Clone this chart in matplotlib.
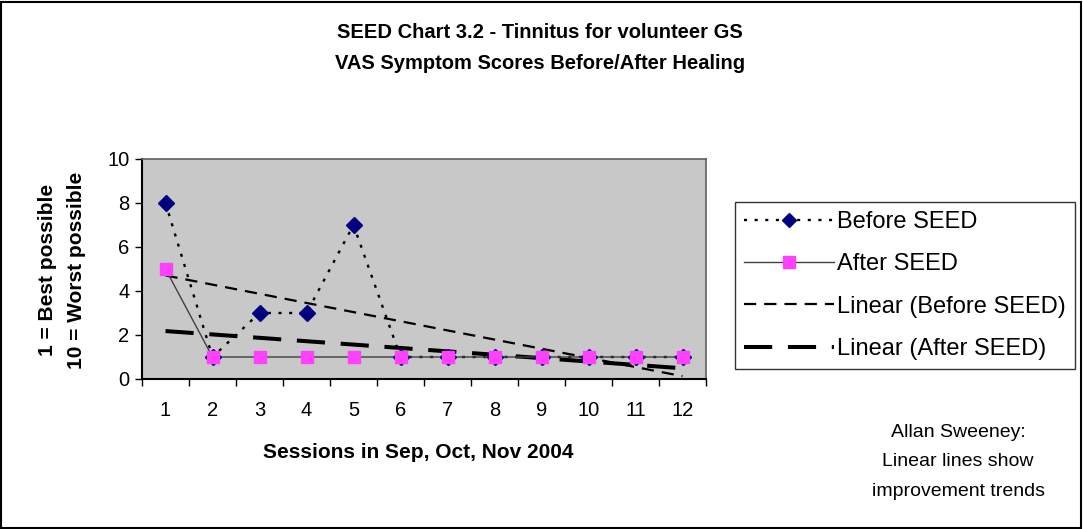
import numpy as np
import matplotlib
matplotlib.use("Agg")
import matplotlib.pyplot as plt
from matplotlib.lines import Line2D
from matplotlib.patches import Rectangle

sessions = [1, 2, 3, 4, 5, 6, 7, 8, 9, 10, 11, 12]
before_seed = [8, 1, 3, 3, 7, 1, 1, 1, 1, 1, 1, 1]
after_seed = [5, 1, 1, 1, 1, 1, 1, 1, 1, 1, 1, 1]
yticks = [0, 2, 4, 6, 8, 10]

title = "SEED Chart 3.2 - Tinnitus for volunteer GS\nVAS Symptom Scores Before/After Healing"
xlabel = "Sessions in Sep, Oct, Nov 2004"
ylabel = "1 = Best possible\n10 = Worst possible"
note = "Allan Sweeney:\nLinear lines show\nimprovement trends"

plt.rcParams['font.family'] = ['Liberation Sans', 'DejaVu Sans']

fig = plt.figure(figsize=(10.83, 5.29), dpi=100)
fig.patches.append(Rectangle((0.001, 0.002), 0.997, 0.995, transform=fig.transFigure,
                             fill=False, edgecolor='black', linewidth=1.5))

ax = fig.add_axes([142 / 1083, 1 - 379 / 529, (706 - 142) / 1083, (379 - 159) / 529])
ax.set_facecolor('#C8C8C8')

DOT = (0, (1.3, 3.2))
DASH_B = (0, (5.5, 3.6))
DASH_A = (0, (7.0, 3.9))

x = np.array(sessions, float)
ax.plot(x, before_seed, color='black', linestyle=DOT, linewidth=1.7, zorder=3)
ax.plot(x, before_seed, linestyle='none', marker='D', markersize=8.5,
        markerfacecolor='#000080', markeredgecolor='#000080', zorder=4)

ax.plot(x, after_seed, color='#404040', linewidth=1.0, zorder=3)
ax.plot(x, after_seed, linestyle='none', marker='s', markersize=8.6,
        markerfacecolor='#FF40FF', markeredgecolor='#FF40FF', zorder=5)

kb = np.polyfit(x, before_seed, 1)
ka = np.polyfit(x, after_seed, 1)
ax.plot(x, np.polyval(kb, x), color='black', linestyle=DASH_B, linewidth=1.6, zorder=2)
ax.plot(x, np.polyval(ka, x), color='black', linestyle=DASH_A, linewidth=2.9, zorder=2)

ax.set_xlim(0.5, 12.5)
ax.set_ylim(0, 10)
ax.set_yticks(yticks)
ax.set_xticks(x)
ax.set_xticks(np.arange(0.5, 13, 1), minor=True)
ax.tick_params(axis='x', which='major', length=0, labelsize=14.5, pad=16)
ax.tick_params(axis='x', which='minor', length=5, width=1, direction='out')
ax.tick_params(axis='y', length=5, width=1, direction='out', labelsize=14.5, pad=4)
for side in ['left', 'bottom']:
    ax.spines[side].set_color('black'); ax.spines[side].set_linewidth(1.5)
for side in ['top', 'right']:
    ax.spines[side].set_color('#606060'); ax.spines[side].set_linewidth(1.2)

fig.text(540 / 1083, 1 - 48 / 529, title, ha='center', va='center', fontsize=14.5,
         fontweight='bold', linespacing=1.8)
fig.text(418 / 1083, 1 - 452 / 529, xlabel, ha='center', va='center', fontsize=15,
         fontweight='bold')
fig.text(62 / 1083, 1 - 270 / 529, ylabel, ha='center', va='center', fontsize=15,
         fontweight='bold', rotation=90, linespacing=1.6, multialignment='center')
fig.text(958 / 1083, 1 - 462 / 529, note, ha='center', va='center', fontsize=14,
         linespacing=1.95)

handles = [
    Line2D([], [], color='black', linestyle=DOT, linewidth=1.7, marker='D',
           markersize=7, markerfacecolor='#000080', markeredgecolor='#000080'),
    Line2D([], [], color='#404040', linewidth=1.0, marker='s', markersize=8,
           markerfacecolor='#FF40FF', markeredgecolor='#FF40FF'),
    Line2D([], [], color='black', linestyle=DASH_B, linewidth=1.6),
    Line2D([], [], color='black', linestyle=DASH_A, linewidth=2.9),
]
labels = ['Before SEED', 'After SEED', 'Linear (Before SEED)', 'Linear (After SEED)']
leg = fig.legend(handles, labels, loc='upper left', bbox_to_anchor=(735 / 1083, 1 - 202 / 529),
                 fontsize=17, frameon=True, fancybox=False, edgecolor='black',
                 handlelength=3.8, handletextpad=0.15, labelspacing=0.86,
                 borderpad=0.38, borderaxespad=0)
leg.get_frame().set_linewidth(1.0)

fig.savefig('out.png', dpi=100)
